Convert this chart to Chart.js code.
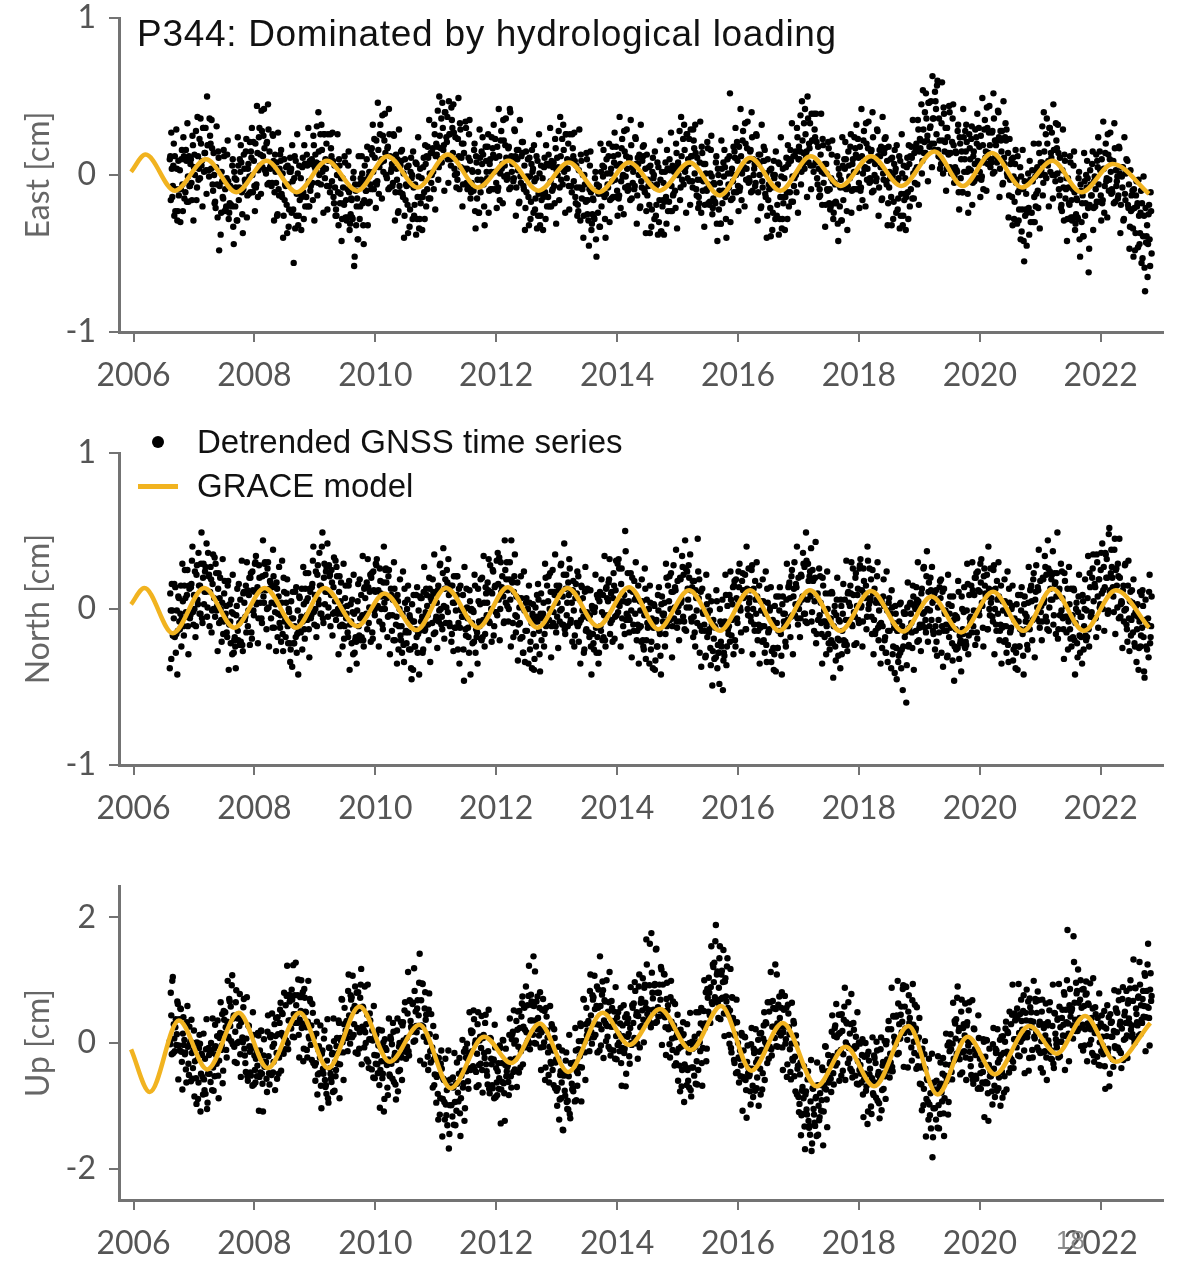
<!DOCTYPE html>
<html>
<head>
<meta charset="utf-8">
<script src="https://cdn.jsdelivr.net/npm/chart.js@4.4.1/dist/chart.umd.min.js"></script>
<style>
  body { margin: 0; background: #fff; }
  #page { position: relative; width: 1178px; height: 1261px; overflow: hidden; background: #fff; }
  canvas { position: absolute; left: 0; }
  .txt { position: absolute; white-space: nowrap; font-family: "Liberation Sans", Arial, sans-serif; color: #111; }
</style>
</head>
<body>
<div id="page">
  <canvas id="east" width="1178" height="400" style="top:0"></canvas>
  <canvas id="north" width="1178" height="440" style="top:400px"></canvas>
  <canvas id="up" width="1178" height="421" style="top:840px"></canvas>

  <div class="txt" style="left:137px; top:12px; font-size:37px; line-height:44px; letter-spacing:0.7px;">P344: Dominated by hydrological loading</div>

  <!-- legend -->
  <div style="position:absolute; left:152px; top:436px; width:12px; height:12px; border-radius:50%; background:#000;"></div>
  <div class="txt" style="left:197px; top:422px; font-size:33px; line-height:40px;">Detrended GNSS time series</div>
  <div style="position:absolute; left:138px; top:484px; width:40px; height:5px; background:#F1B320;"></div>
  <div class="txt" style="left:197px; top:466px; font-size:33px; line-height:40px;">GRACE model</div>

  <div class="txt" style="left:1056px; top:1225px; font-size:26px; line-height:30px; color:#888;">18</div>
</div>

<script>
// x axis
const yearTicks = [2006, 2008, 2010, 2012, 2014, 2016, 2018, 2020, 2022];
const xMin = 2005.76, xMax = 2023.03;

// GNSS samples: one every 1/60 yr from 2006.6 (set B sits half a step later), hundredths of cm
const gnssStart = 2006.6;
const gnssStep = 1 / 60;

const eastGnss = [
  10,-16,4,-7,20, 12,-9,4,-23,-13, 3,-9,16,-23,12, 10,16,-17,-1,12, -7,10,-16,19,5,
  0,28,-8,12,4, -2,20,9,30,2, 14,3,50,19,-1, 25,4,17,-10,0, -17,5,-6,15,-48, 2,-24,-4,-15,12, -9,-20,13,-4,-24, -7,-19,6,-33,2, -20,-3,-29,6,-8, 2,8,-25,-9,4, -5,23,-13,7,-1, -11,11,0,21,-7,
  20,-6,14,3,30, 13,41,5,25,17, 3,20,-6,29,15, 4,-7,26,9,-11, 2,8,-25,-9,4, 9,-12,1,-26,-16, -7,-19,6,-33,2, 2,-24,-4,-56,12, 9,-12,1,-26,-16, -2,-14,11,-28,7, 7,13,-20,-4,9, -7,10,-16,19,5,
  3,31,-5,15,7, -6,16,5,26,-2, 4,-7,26,9,-11, 17,-4,9,-18,-8, -22,0,-11,10,-18, -2,-28,-8,-19,8, -16,-27,6,-11,-31, -15,-27,-2,-58,-6, -32,-15,-41,-6,-20, -5,1,-32,-16,-3, -10,18,-18,2,-6, -9,13,2,23,-5,
  22,-4,16,5,32, 10,38,2,22,14, 0,17,-9,26,12, 4,-7,26,9,-11, 4,10,-23,-7,6, 9,-12,1,-26,-16, -7,-19,6,-33,2, -2,-28,-8,-19,8, 7,-14,-1,-28,-18, -2,-14,11,-28,7, 12,18,-15,1,14, 0,17,-9,26,12,
  13,41,5,25,17, 8,30,19,40,12, 21,10,47,26,6, 35,14,27,0,10, 1,23,12,33,5, 20,-6,14,3,30, 4,-7,26,9,-11, 3,-9,16,-23,12, -15,2,-24,11,-3, 7,13,-20,-4,9, -2,26,-10,10,2, -9,13,2,23,-5,
  18,-8,12,1,28, 7,35,-1,19,11, 0,17,-9,40,12, 7,-4,29,12,-8, 10,16,-17,-1,12, 14,-7,6,-21,-11, -2,-14,11,-28,7, 2,-24,-4,-15,12, 9,-12,1,-26,-16, -2,-14,11,-28,7, 7,13,-20,-4,9, -9,8,-18,17,3,
  0,28,-8,12,4, -6,16,5,26,-2, 4,-7,26,9,-11, 17,-4,9,-18,-8, -19,3,-8,13,-15, 0,-26,-6,-17,10, -16,-45,6,-11,-31, -15,-27,-2,-41,-6, -24,-7,-33,2,-12, -1,5,-28,-12,1, -8,20,-16,4,-4, -14,8,-3,18,-10,
  13,-13,7,-4,23, 0,28,-8,12,4, -7,10,-16,19,5, 2,-9,24,7,-13, 7,13,-20,-4,9, 12,-9,4,-23,-13, -7,-19,6,-33,2, -2,-28,-8,-19,8, 5,-16,-3,-36,-20, -5,-17,8,-31,4, 4,10,-23,-7,6, -12,5,-21,14,0,
  0,28,-8,12,4, -6,16,5,26,-2, 7,-4,29,12,-8, 22,1,14,-13,-3, -14,8,-3,18,-10, 7,-19,1,-10,17, -6,-17,16,-1,-21, -5,-17,8,-31,4, -22,-5,-31,4,-10, -1,5,-28,-12,1, -8,52,-16,4,-4, -11,11,0,21,-7,
  18,-8,12,1,28, 5,33,-3,17,9, -2,15,-11,24,10, 4,-7,26,9,-11, 7,13,-20,-4,9, 9,-12,1,-26,-16, -9,-21,4,-35,0, -2,-28,-8,-19,8, 7,-14,-1,-28,-18, -2,-14,11,-28,7, 10,16,-17,-1,12, -2,15,-11,24,10,
  10,38,2,22,14, 4,26,15,50,8, 17,6,39,22,2, 29,8,21,-6,4, -9,13,2,23,-5, 7,-19,1,-10,17, -9,-20,13,-4,-24, -5,-17,8,-31,4, -20,-3,-29,6,-8, 4,10,-23,-7,6, -2,26,-10,10,2, -9,13,2,23,-5,
  18,-8,12,1,28, 5,33,-3,17,9, -2,15,-11,24,10, 7,-4,29,12,-8, 12,18,-15,1,14, 17,-4,9,-18,-8, -2,-14,11,-28,7, 2,-24,-4,-15,12, 9,-12,1,-26,-16, -2,-14,11,-28,7, 12,18,-15,1,14, 3,20,-6,29,15,
  17,45,9,29,21, 14,36,25,46,18, 31,20,63,36,16, 47,26,60,12,22, 11,33,22,43,15, 30,4,24,13,40, 14,3,36,19,-1, 15,3,28,-11,24, -2,15,-11,24,10, 15,21,-12,4,17, 3,31,-5,15,7, -2,20,9,30,2,
  25,-1,19,8,35, 15,43,7,27,19, 10,27,1,36,22, 19,8,41,24,4, 22,28,-5,11,24, 22,1,14,-13,-3, -2,-14,11,-28,7, -5,-31,-11,-22,5, -1,-22,-9,-55,-26, -12,-24,1,-38,-3, -3,3,-30,-14,-1, -12,5,-21,14,0,
  3,31,-5,15,7, -2,20,9,30,2, 11,0,45,16,-4, 22,1,14,-13,-3, -19,3,-8,13,-15, -2,-28,-8,-19,8, -16,-27,6,-11,-31, -15,-27,-2,-41,-6, -30,-13,-39,-4,-18, -8,-2,-62,-19,-6, -13,15,-21,-1,-9, -17,5,-6,15,-13,
  10,-16,4,-7,20, -2,26,-10,10,2, -9,8,-18,17,3, -4,-15,18,1,-19, -1,5,-28,-12,1, 2,-19,-6,-33,-23, -22,-34,-9,-48,-13, -20,-46,-26,-37,-10, -18,-39,-26,-74,-43, -32,-44,-19,-58,-23
];
const eastGnssB = [
  12,27,-14,6,-26, -23,29,-29,9,-9, -30,10,-6,24,-15, -11,9,33,-17,-7, 7,-5,25,-29,13,
  5,-16,37,-3,23, 36,6,-20,30,14, 30,-12,19,3,36, 20,35,-6,14,-18, -21,31,-27,11,-7, -38,2,-14,16,-23, -22,-2,22,-28,-18, -8,-20,10,-44,-2, -8,-29,24,-16,10, 19,-11,-37,13,-3, 15,-27,4,-12,21, 15,30,-11,9,-23,
  -8,44,-14,24,6, -12,28,12,42,3, 1,21,45,-5,5, 7,-5,25,-29,13, -5,-26,27,-13,13, 16,-14,-40,10,-6, 5,-37,-6,-22,11, 4,19,-22,-2,-34, -26,26,-32,6,-12, -35,5,-11,19,-20, -14,6,30,-20,-10, 7,-5,25,-29,13,
  8,-13,40,0,26, 32,2,-24,26,10, 20,-22,9,-7,26, 12,27,-14,6,-26, -26,26,-32,6,-12, -42,-2,-18,12,-27, -29,-9,15,-35,-25, -16,-28,2,-52,-10, -20,-41,12,-28,-2, 12,-18,-44,6,-10, 10,-32,-1,-17,16, 17,32,-9,11,-21,
  -6,46,-12,26,8, -15,25,9,39,0, -2,18,42,-8,2, 7,-5,25,-29,13, -3,-24,29,-11,15, 16,-14,-40,10,-6, 5,-37,-6,-22,11, 0,15,-26,-6,-38, -28,24,-34,4,-14, -35,5,-11,19,-20, -9,11,35,-15,-5, 14,2,32,-22,20,
  18,-3,50,10,36, 46,16,-10,40,24, 37,-5,26,10,43, 30,45,4,24,-8, -3,49,-9,29,11, -20,20,4,34,-5, -9,11,35,-15,-5, 2,-10,20,-34,8, -3,-24,29,-11,15, 24,-6,-32,18,2, 18,-24,7,-9,24, 17,32,-9,11,-21,
  -10,42,-16,22,4, -18,22,6,36,-3, -2,18,42,-8,2, 10,-2,28,-26,16, 3,-18,35,-5,21, 21,-9,-35,15,-1, 10,-32,-1,-17,16, 4,19,-22,-2,-34, -26,26,-32,6,-12, -35,5,-11,19,-20, -14,6,30,-20,-10, 5,-7,23,-31,11,
  5,-16,37,-3,23, 32,2,-24,26,10, 20,-22,9,-7,26, 12,27,-14,6,-26, -23,29,-29,9,-9, -40,0,-16,14,-25, -29,-9,15,-35,-25, -16,-28,2,-52,-10, -12,-33,20,-20,6, 16,-14,-40,10,-6, 12,-30,1,-15,18, 12,27,-14,6,-26,
  -15,37,-21,17,-1, -25,15,-1,29,-10, -9,11,35,-15,-5, 5,-7,23,-31,11, 0,-21,32,-8,18, 19,-11,-37,13,-3, 5,-37,-6,-22,11, 0,15,-26,-6,-38, -30,22,-36,2,-16, -38,2,-14,16,-23, -17,3,27,-23,-13, 2,-10,20,-34,8,
  5,-16,37,-3,23, 32,2,-24,26,10, 23,-19,12,-4,29, 17,32,-9,11,-21, -18,34,-24,14,-4, -33,7,-9,21,-18, -19,1,25,-25,-15, -6,-18,12,-42,0, -10,-31,22,-18,8, 16,-14,-40,10,-6, 12,-30,1,-15,18, 15,30,-11,9,-23,
  -10,42,-16,22,4, -20,20,4,34,-5, -4,16,40,-10,0, 7,-5,25,-29,13, 0,-21,32,-8,18, 16,-14,-40,10,-6, 3,-39,-8,-24,9, 0,15,-26,-6,-38, -28,24,-34,4,-14, -35,5,-11,19,-20, -11,9,33,-17,-7, 12,0,30,-24,18,
  15,-6,47,7,33, 42,12,-14,36,20, 33,-9,22,6,39, 24,39,-2,18,-14, -13,39,-19,19,1, -33,7,-9,21,-18, -22,-2,22,-28,-18, -6,-18,12,-42,0, -8,-29,24,-16,10, 21,-9,-35,15,-1, 18,-24,7,-9,24, 17,32,-9,11,-21,
  -10,42,-16,22,4, -20,20,4,34,-5, -4,16,40,-10,0, 10,-2,28,-26,16, 5,-16,37,-3,23, 24,-6,-32,18,2, 10,-32,-1,-17,16, 4,19,-22,-2,-34, -26,26,-32,6,-12, -35,5,-11,19,-20, -9,11,35,-15,-5, 17,5,35,-19,23,
  22,1,54,14,40, 52,22,-4,46,30, 47,5,36,20,53, 42,57,16,36,4, 7,59,1,39,21, -10,30,14,44,5, 1,21,45,-5,5, 14,2,32,-22,20, 10,-11,42,2,28, 32,2,-24,26,10, 23,-19,12,-4,29, 24,39,-2,18,-14,
  -3,49,-9,29,11, -10,30,14,44,5, 8,28,52,2,12, 22,10,40,-14,28, 15,-6,47,7,33, 29,-1,-27,23,7, 10,-32,-1,-17,16, -3,12,-29,-9,-41, -36,16,-42,-4,-22, -45,-5,-21,9,-30, -24,-4,20,-30,-20, 2,-10,20,-34,8,
  8,-13,40,0,26, 36,6,-20,30,14, 27,-15,16,0,33, 17,32,-9,11,-21, -23,29,-29,9,-9, -42,-2,-18,12,-27, -29,-9,15,-35,-25, -16,-28,2,-52,-10, -18,-39,14,-26,0, 9,-21,-47,3,-13, 7,-35,-4,-20,13, 9,24,-17,3,-29,
  -18,34,-24,14,-4, -27,13,-3,27,-12, -11,9,33,-17,-7, -1,-13,17,-37,5, -8,-29,24,-16,10, 9,-21,-47,3,-13, -10,-52,-21,-37,-4, -18,-3,-44,-24,-56, -53,-1,-59,-21,-39, -65,-25,-41,-11,-50
];

const northGnss = [
  -38,-1,16,-17,-6, -18,-28,-1,-14,7, -13,15,-6,5,-17, 25,-2,9,-11,15, -6,14,31,-2,9,
  24,-11,28,3,15, 15,29,-6,20,3, 24,11,-5,36,22, 11,19,-1,35,7, -5,23,2,13,-9, 20,-7,4,-16,10, -6,2,-18,18,-10, -8,6,-29,-3,-20, -24,-4,13,-20,-9, 6,-7,-23,10,4, -5,-15,12,-1,20, 20,-15,24,-1,11,
  30,3,14,-6,20, 4,-6,21,8,29, 22,-13,26,1,13, 17,4,-12,21,15, 3,17,-18,8,-9, -4,4,-16,20,-8, -18,10,-11,0,-22, -26,-6,11,-22,-11, -18,-28,-1,-14,7, -15,13,-8,3,-19, 23,-4,7,-13,13, -6,14,31,-2,9,
  24,-11,28,3,15, 15,40,-6,20,3, 24,11,-5,28,22, 9,17,-3,33,5, -7,21,0,11,-11, 17,-10,1,-19,7, -6,2,-18,18,-10, -8,6,-29,-3,-20, -21,-1,16,-17,-6, 9,-4,-20,13,7, -3,-13,14,1,22, 20,-15,24,-1,11,
  28,1,12,-8,18, 0,-10,17,4,25, 17,-18,21,-4,8, 9,-4,-20,13,7, -5,9,-26,0,-17, -11,-3,-23,13,-15, -22,6,-15,-4,-26, -45,-8,9,-24,-13, -18,-28,-1,-14,7, 7,-28,11,-14,-2, 9,-4,-20,13,7, 5,19,-16,10,-7,
  4,12,-8,28,0, -5,23,2,13,-9, 25,-2,9,-11,15, -16,4,21,-12,-1, 9,-26,13,-12,0, -5,9,-46,0,-17, 1,-12,-28,5,-1, -9,-1,-21,15,-13, -15,13,-8,3,-19, 20,-7,4,-16,10, 4,12,-8,28,0, 10,24,-11,15,-2,
  -4,16,33,0,11, 21,8,-8,25,19, 2,-8,19,6,44, 17,-18,21,-4,8, 17,-10,1,-19,7, -18,-28,-1,-14,7, 0,-35,4,-21,-9, -3,-16,-32,1,-5, -8,6,-29,-3,-20, -4,4,-16,20,-8, -7,21,0,11,-11, 25,-2,9,-11,15,
  4,12,-8,28,0, 8,22,-13,13,-4, -11,9,26,-7,4, 12,-1,-17,16,10, -11,-21,6,-7,14, 7,-28,11,-14,-2, 12,-15,-4,-24,2, -16,-26,1,-12,9, 7,-28,11,-14,-2, 9,-4,-20,13,7, 5,19,-16,10,-7, 7,15,-5,31,3,
  -2,26,5,16,-6, -11,9,50,-7,4, -5,-15,12,-1,20, -10,18,-3,8,-14, 15,-12,-1,-21,5, -24,-4,13,-20,-9, 0,-35,4,-21,-9, -12,2,-33,-7,-24, -1,-14,-30,3,-3, -4,4,-16,20,-8, -7,21,0,11,-11, 28,1,12,-8,18,
  2,-8,19,6,27, 22,-13,26,1,13, 28,1,12,-8,18, -5,-15,12,-1,45, 7,-28,11,-14,-2, -1,-14,-30,3,-3, -15,-1,-36,-10,-27, -19,-11,-31,5,-23, -28,0,-21,-10,-52, -28,-8,9,-24,-13, -11,-21,6,-7,14, 15,-20,19,-6,6,
  14,1,-15,18,12, 8,22,-13,13,-4, 4,12,-8,28,0, -10,18,-3,8,-14, 15,-12,-1,-21,5, -11,-3,-23,13,-15, -13,1,-34,-8,-25, -29,-9,8,-25,-14, -1,-14,-30,3,-3, -11,-21,6,-7,14, 17,-18,21,-4,8, 30,3,14,-6,20,
  4,-6,21,8,29, 27,-8,31,6,18, 21,8,-8,25,19, 5,43,-16,10,-7, -4,4,-16,20,-8, -18,10,-11,0,-22, -26,-6,11,-22,-11, 2,-33,6,-19,-7, -8,6,-29,-3,-20, 6,-7,-23,10,4, 2,10,-10,26,-2, -5,23,2,13,-9,
  28,1,12,-8,18, 7,15,-5,31,3, 5,19,-16,10,-7, -16,4,21,-12,-1, 4,-9,-25,8,2, -18,-28,-1,-14,7, -3,-38,1,-24,-12, 2,-25,-14,-34,-8, -28,-38,-11,-24,-3, -3,-60,1,-24,-12, 4,-9,-25,8,2, 0,14,-21,5,-12,
  2,10,-10,26,-2, -7,21,0,11,-11, 20,-7,4,-16,10, -11,-21,6,-7,14, 7,-28,11,-14,-2, -1,-14,-30,3,-3, -12,2,-33,-7,-24, -13,-5,-25,11,-17, -20,8,-13,-2,-24, -21,-1,16,-17,-6, -5,-15,12,-1,20, 20,-15,24,-1,11,
  17,4,-12,21,15, 8,22,-13,13,-4, 4,12,-8,28,0, -10,18,-3,8,-14, 15,-12,-1,-21,5, -11,-3,-23,13,-15, -12,2,-33,-7,-24, -28,-8,9,-24,-13, -1,-14,-30,3,-3, -13,-23,4,-9,12, 15,-20,19,-6,6, 28,1,12,-8,18,
  2,-8,19,6,27, 22,-13,26,1,13, 19,6,-10,23,17, 8,49,-13,13,-4, -1,7,-13,23,-5, -15,13,-8,3,-19, -24,-4,13,-20,-9, 4,-31,8,-17,-5, -5,9,-26,0,-17, -1,7,-13,23,-5, -2,26,5,16,-6, 35,8,19,1,25,
  10,0,27,14,35, 32,-3,48,11,23, 27,14,-2,45,25, 15,29,-6,20,3, 4,12,-8,28,0, -13,15,-6,5,-17, 12,-15,-4,-24,2, -13,-5,-25,11,-17, -12,2,-40,-7,-24, -26,-6,11,-22,-11
];
const northGnssB = [
  10,-32,-1,-17,16, 14,-16,-42,8,-8, -3,-24,29,-11,15, 7,-5,25,-29,13, -4,16,40,-10,0,
  -18,22,6,36,-3, -3,49,-9,29,11, 27,42,1,21,-11, 27,-15,16,0,33, 29,-1,-27,23,7, 0,-21,32,-8,18, -3,-15,15,-39,3, -22,-2,22,-28,-18, -38,2,-14,16,-23, -21,31,-27,11,-7, 15,30,-11,9,-23, 23,-19,12,-4,29,
  34,4,-22,28,12, 12,-9,44,4,30, 12,0,30,-24,18, -6,14,38,-12,-2, -27,13,-3,27,-12, -21,31,-27,11,-7, 4,19,-22,-2,-34, 5,-37,-6,-22,11, 14,-16,-42,8,-8, -5,-26,27,-13,13, 5,-7,23,-31,11, -4,16,40,-10,0,
  -18,22,6,36,-3, -3,49,-9,29,11, 27,42,1,21,-11, 25,-17,14,-2,31, 27,-3,-29,21,5, -3,-24,29,-11,15, -3,-15,15,-39,3, -22,-2,22,-28,-18, -35,5,-11,19,-20, -18,34,-24,14,-4, 17,32,-9,11,-21, 23,-19,12,-4,29,
  32,2,-24,26,10, 8,-13,40,0,26, 7,-5,25,-29,13, -14,6,30,-20,-10, -35,5,-11,19,-20, -28,24,-34,4,-14, 0,15,-26,-6,-38, 3,-39,-8,-24,9, 14,-16,-42,8,-8, -5,-26,27,-13,13, 2,-10,20,-34,8, -9,11,35,-15,-5,
  -25,15,-1,29,-10, -13,39,-19,19,1, 17,32,-9,11,-21, 15,-27,4,-12,21, 21,-9,-35,15,-1, -5,-26,27,-13,13, -6,-18,12,-42,0, -22,-2,22,-28,-18, -35,5,-11,19,-20, -18,34,-24,14,-4, 17,32,-9,11,-21, 25,-17,14,-2,31,
  36,6,-20,30,14, 12,-9,44,4,30, 12,0,30,-24,18, -9,11,35,-15,-5, -33,7,-9,21,-18, -28,24,-34,4,-14, 0,15,-26,-6,-38, 3,-39,-8,-24,9, 16,-14,-40,10,-6, -3,-24,29,-11,15, 5,-7,23,-31,11, -9,11,35,-15,-5,
  -25,15,-1,29,-10, -10,42,-16,22,4, 17,32,-9,11,-21, 18,-24,7,-9,24, 21,-9,-35,15,-1, -5,-26,27,-13,13, -6,-18,12,-42,0, -22,-2,22,-28,-18, -35,5,-11,19,-20, -18,34,-24,14,-4, 17,32,-9,11,-21, 23,-19,12,-4,29,
  32,2,-24,26,10, 5,-16,37,-3,23, 5,-7,23,-31,11, -14,6,30,-20,-10, -35,5,-11,19,-20, -26,26,-32,6,-12, 0,15,-26,-6,-38, 3,-39,-8,-24,9, 14,-16,-42,8,-8, -3,-24,29,-11,15, 5,-7,23,-31,11, -6,14,38,-12,-2,
  -20,20,4,34,-5, -8,44,-14,24,6, 20,35,-6,14,-18, 18,-24,7,-9,24, 19,-11,-37,13,-3, -10,-31,22,-18,8, -13,-25,5,-49,-7, -32,-12,12,-38,-28, -48,-8,-24,6,-33, -30,22,-36,2,-16, 9,24,-17,3,-29, 18,-24,7,-9,24,
  29,-1,-27,23,7, 8,-13,40,0,26, 7,-5,25,-29,13, -14,6,30,-20,-10, -35,5,-11,19,-20, -28,24,-34,4,-14, -1,14,-27,-7,-39, 2,-40,-9,-25,8, 14,-16,-42,8,-8, -3,-24,29,-11,15, 7,-5,25,-29,13, -4,16,40,-10,0,
  -18,22,6,36,-3, -3,49,-9,29,11, 24,39,-2,18,-14, 20,-22,9,-7,26, 21,-9,-35,15,-1, -8,-29,24,-16,10, -8,-20,10,-44,-2, -24,-4,20,-30,-20, -38,2,-14,16,-23, -21,31,-27,11,-7, 15,30,-11,9,-23, 20,-22,9,-7,26,
  32,2,-24,26,10, 8,-13,40,0,26, 7,-5,25,-29,13, -14,6,30,-20,-10, -35,5,-11,19,-20, -28,24,-34,4,-14, -3,12,-29,-9,-41, -3,-45,-14,-30,3, 4,-26,-52,-2,-18, -15,-36,17,-23,3, -3,-15,15,-39,3, -14,6,30,-20,-10,
  -27,13,-3,27,-12, -15,37,-21,17,-1, 12,27,-14,6,-26, 12,-30,1,-15,18, 19,-11,-37,13,-3, -10,-31,22,-18,8, -10,-22,8,-46,-4, -26,-6,18,-32,-22, -40,0,-16,14,-25, -23,29,-29,9,-9, 15,30,-11,9,-23, 23,-19,12,-4,29,
  32,2,-24,26,10, 8,-13,40,0,26, 7,-5,25,-29,13, -14,6,30,-20,-10, -35,5,-11,19,-20, -28,24,-34,4,-14, 0,15,-26,-6,-38, 3,-39,-8,-24,9, 14,-16,-42,8,-8, -5,-26,27,-13,13, 5,-7,23,-31,11, -6,14,38,-12,-2,
  -20,20,4,34,-5, -8,44,-14,24,6, 22,37,-4,16,-16, 23,-19,12,-4,29, 24,-6,-32,18,2, -5,-26,27,-13,13, -6,-18,12,-42,0, -22,-2,22,-28,-18, -35,5,-11,19,-20, -18,34,-24,14,-4, 20,35,-6,14,-18, 30,-12,19,3,36,
  42,12,-14,36,20, 20,-1,52,12,38, 20,8,38,-16,26, 1,21,45,-5,5, -25,15,-1,29,-10, -21,31,-27,11,-7, 4,19,-22,-2,-34, 3,-39,-8,-24,9, 12,-18,-44,6,-10, -10,-31,22,-18,8
];

const upGnss = [
  3,80,-18,105,30, -13,38,14,62,-4, -12,54,-30,15,-3, -18,-42,33,-6,-51, -1,-61,-16,-40,20,
  -29,-56,1,-89,-8, -1,-49,-19,-82,-58, -25,-10,-105,-49,-19, -15,0,-75,-39,-9, 29,-19,11,-52,-28, 16,-11,46,-44,37, 49,-11,34,10,70, 27,3,108,39,-6, 18,84,0,45,27, -18,33,9,57,-9, -32,7,-53,28,-5, -47,-8,-68,13,-20,
  -63,-12,-36,12,-54, -47,19,-65,-20,-38, -33,-57,18,-21,-66, 9,-51,-6,-30,30, 11,-16,41,-49,32, 64,16,46,-17,7, 60,75,0,36,66, 70,85,10,46,76, 128,46,76,13,37, 51,24,81,-9,72, 49,-11,34,10,70, -3,-27,48,9,-36,
  -32,34,-50,-5,-23, -68,-17,-41,7,-59, -67,-28,-88,-7,-40, -57,-18,-78,3,-30, -43,8,-16,32,-34, 3,69,-15,30,12, 32,8,83,44,-1, 69,9,54,30,90, 51,24,81,-9,72, 118,26,56,-7,17, 30,45,-30,6,36, 5,20,-55,-19,11,
  14,-34,-4,-67,-43, -29,-56,1,-89,-8, -11,-71,-26,-50,10, -33,-57,18,-21,-66, -27,39,-45,0,-18, -23,28,4,52,-14, 8,47,-13,68,35, 23,62,2,83,50, 17,68,44,142,26, 28,94,10,55,37, 2,-22,53,14,-31, -11,-71,-26,-50,10,
  -54,-81,-24,-114,-33, -41,-89,-59,-122,-98, -75,-60,-168,-99,-69, -70,-55,-130,-94,-64, -31,-79,-49,-112,-88, -44,-71,-14,-104,-23, -1,-61,-16,-40,20, -13,-37,38,-1,-46, -17,49,-35,10,-8, -43,8,-16,32,-34, -52,-13,-73,8,-25, -67,-28,-88,-7,-40,
  -83,-32,-56,-8,-74, -62,4,-80,-35,-53, -38,-62,13,-26,-71, 14,-46,-1,-25,35, 21,-6,51,-39,42, 74,26,56,-7,17, 60,75,0,36,66, 60,138,0,36,66, 74,26,56,-7,17, 21,-6,51,-39,42, 9,-51,-6,-30,30, -43,-67,8,-31,-76,
  -72,-6,-90,-45,-63, -138,-52,-76,-28,-94, -92,-53,-113,-32,-65, -72,-33,-93,-12,-45, -48,3,-21,27,-39, 3,69,-15,30,12, 32,8,83,44,-1, 69,9,54,30,90, 56,29,138,-4,77, 84,36,66,3,27, 50,65,-10,26,56, 35,50,-25,11,41,
  49,1,31,-32,-8, 11,-16,41,-49,32, 39,-21,24,0,60, 32,8,83,44,-1, 43,109,25,70,52, 37,88,64,165,46, 53,92,32,175,80, 53,92,32,150,80, 42,93,69,117,51, 43,109,25,70,52, 22,-2,73,34,-11, 24,-36,9,-15,45,
  -9,-36,21,-69,12, 14,-34,-4,-67,-43, -15,0,-75,-39,-9, -5,10,-65,-29,1, 49,1,31,-32,-8, 51,24,81,-9,72, 104,44,89,65,125, 97,73,188,109,64, 88,154,70,115,97, 47,98,74,122,56, 13,52,-8,73,40, -27,12,-48,33,0,
  -63,-12,-36,12,-54, -57,9,-75,-30,-48, -53,-77,-2,-41,-86, -16,-76,-31,-55,5, -14,-41,16,-74,7, 49,1,31,-32,-8, 50,65,-10,26,56, 55,125,-5,31,61, 74,26,56,-7,17, 26,-1,56,-34,47, 14,-46,-1,-25,35, -53,-77,-2,-41,-86,
  -97,-31,-115,-70,-88, -133,-82,-106,-58,-124, -132,-93,-172,-72,-105, -127,-88,-148,-67,-100, -118,-67,-91,-43,-109, -72,-6,-90,-45,-63, -33,-57,18,-21,-66, 24,-36,9,-15,45, 16,-11,46,-44,37, 88,1,31,-32,-8, 15,30,-45,-9,21, -5,10,-65,-29,1,
  -1,-49,-19,-82,-58, -49,-76,-19,-109,-28, -41,-101,-56,-80,-20, -63,-87,-12,-51,-96, -57,9,-75,-30,-48, -53,-2,-26,22,-44, -17,22,-38,43,10, 3,42,-18,63,30, 7,58,34,92,16, 23,89,5,50,32, 17,-7,68,29,-16, 19,-41,4,-20,40,
  -39,-66,-9,-99,-18, -41,-89,-59,-122,-98, -80,-65,-182,-104,-74, -75,-60,-135,-99,-69, -31,-79,-49,-112,-88, -34,-61,-4,-94,-13, 14,-46,-1,-25,35, 7,-17,90,19,-26, 3,69,-15,30,12, -23,28,4,52,-14, -37,2,-58,23,-10, -52,-13,-73,8,-25,
  -73,-22,-46,2,-64, -62,4,-80,-35,-53, -53,-77,-2,-41,-86, -16,-76,-31,-55,5, -19,-46,11,-79,2, 34,-14,16,-47,-23, 30,45,-30,6,36, 40,55,-20,16,46, 69,21,51,-12,12, 36,9,66,-24,57, 49,-11,34,10,70, 17,-7,68,29,-16,
  3,69,-15,30,12, -23,28,4,52,-14, -12,27,-33,48,15, -2,37,-23,58,25, 2,53,29,77,11, 33,180,15,60,42, 52,28,170,64,19, 79,19,64,40,100, 56,29,86,-4,77, 79,31,61,-2,22, 40,55,-20,16,46, 25,40,-35,1,31,
  44,-4,26,-37,-13, 11,-16,41,-49,32, 34,-26,19,-5,55, 17,-7,68,29,-16, 23,89,5,50,32, 12,63,39,87,21, 28,67,7,88,55, 33,72,12,93,60, 32,83,59,107,41, 58,158,40,85,67
];
const upGnssB = [
  -2,44,99,-16,7, 25,-3,66,-58,38, 55,-14,-74,41,5, -15,-63,59,-33,26, 3,37,-57,-11,-85,
  0,-97,-26,-63,13, -109,-17,-54,15,-75, -81,38,-95,-8,-49, -62,-16,39,-76,-53, -5,-33,36,-88,8, 65,-4,-64,51,15, 25,-23,99,7,66, 58,92,-2,44,-30, 65,-32,39,2,78, -54,38,1,70,-20, -46,73,-60,27,-14, -52,-6,49,-66,-43,
  -25,-53,16,-108,-12, 20,-49,-109,6,-30, -30,-78,44,-48,11, 13,47,-47,-1,-75, 40,-57,14,-23,53, -44,48,11,80,-10, 4,123,-10,77,36, 23,69,124,9,32, 60,32,101,-23,73, 100,31,-29,86,50, 25,-23,99,7,66, 28,62,-32,14,-60,
  15,-82,-11,-48,28, -104,-12,-49,20,-70, -81,38,-95,-8,-49, -62,-16,39,-76,-53, -5,-33,36,-88,8, 70,1,-59,56,20, 35,-13,109,17,76, 73,107,13,59,-15, 80,-17,54,17,93, -34,58,21,90,0, -26,93,-40,47,6, -42,4,59,-56,-33,
  -20,-48,21,-103,-7, 20,-49,-109,6,-30, -35,-83,39,-53,6, -2,32,-62,-16,-90, 20,-77,-6,-43,33, -59,33,-4,65,-25, -6,113,-20,67,26, 18,64,119,4,27, 55,27,96,-28,68, 95,26,-34,81,45, 5,-43,79,-13,46, -7,27,-67,-21,-95,
  -25,-122,-51,-88,-12, -149,-57,-94,-25,-115, -131,-12,-145,-58,-99, -117,-71,-16,-131,-108, -65,-93,-24,-148,-52, 5,-64,-124,-9,-45, -25,-73,49,-43,16, 18,52,-42,4,-70, 30,-67,4,-33,43, -79,13,-24,45,-45, -66,53,-80,7,-34, -72,-26,29,-86,-63,
  -45,-73,-4,-128,-32, 5,-64,-124,-9,-45, -35,-83,39,-53,6, 18,52,-42,4,-70, 50,-47,24,-13,63, -34,58,21,90,0, 4,123,-10,77,36, 13,59,114,-1,22, 40,12,81,-43,53, 70,1,-59,56,20, -15,-63,59,-33,26, -12,22,-72,-26,-100,
  -25,-122,-51,-88,-12, -139,-47,-84,-15,-105, -106,13,-120,-33,-74, -77,-31,24,-91,-68, -10,-38,31,-93,3, 70,1,-59,56,20, 35,-13,109,17,76, 73,107,13,59,-15, 85,-12,59,22,98, -24,68,31,100,10, -6,113,-20,67,26, -12,34,89,-26,-3,
  15,-13,56,-68,28, 60,-9,-69,46,10, 15,-33,89,-3,56, 63,97,3,49,-25, 90,-7,64,27,103, 1,93,56,125,35, 39,158,25,112,71, 48,94,149,34,57, 80,52,121,-3,93, 110,41,-19,96,60, 25,-23,99,7,66, 28,62,-32,14,-60,
  20,-77,-6,-43,33, -94,-2,-39,30,-60, -71,48,-85,2,-39, -52,-6,49,-66,-43, 15,-13,56,-68,28, 100,31,-29,86,50, 80,32,154,62,121, 128,162,68,114,40, 135,38,109,72,148, 11,103,66,135,45, -1,118,-15,72,31, -32,14,69,-46,-23,
  -25,-53,16,-108,-12, 10,-59,-119,-4,-40, -50,-98,24,-68,-9, -12,22,-72,-26,-100, 15,-82,-11,-48,28, -59,33,-4,65,-25, -6,113,-20,67,26, 8,54,109,-6,17, 40,12,81,-43,53, 75,6,-54,61,25, -10,-58,64,-28,31, -22,12,-82,-36,-110,
  -50,-147,-76,-113,-37, -169,-77,-114,-45,-135, -146,-27,-160,-73,-114, -132,-86,-31,-146,-123, -80,-108,-39,-163,-67, -5,-74,-134,-19,-55, -30,-78,44,-48,11, 28,62,-32,14,-60, 45,-52,19,-18,58, -59,33,-4,65,-25, -41,78,-55,32,-9, -52,-6,49,-66,-43,
  -35,-63,6,-118,-22, 0,-69,-129,-14,-50, -65,-113,9,-83,-24, -32,2,-92,-46,-120, -10,-107,-36,-73,3, -89,3,-34,35,-55, -31,88,-45,42,1, -2,44,99,-16,7, 45,17,86,-38,58, 90,21,-39,76,40, 20,-28,94,2,61, 23,57,-37,9,-65,
  -10,-107,-36,-73,3, -149,-57,-94,-25,-115, -136,-17,-150,-63,-104, -122,-76,-21,-136,-113, -65,-93,-24,-148,-52, 15,-54,-114,1,-35, -10,-58,64,-28,31, 38,72,-22,24,-50, 50,-47,24,-13,63, -59,33,-4,65,-25, -51,68,-65,22,-19, -57,-11,44,-71,-48,
  -35,-63,6,-118,-22, 5,-64,-124,-9,-45, -50,-98,24,-68,-9, -12,22,-72,-26,-100, 10,-87,-16,-53,23, -74,18,-19,50,-40, -26,93,-40,47,6, -7,39,94,-21,2, 35,7,76,-48,48, 85,16,-44,71,35, 25,-23,99,7,66, 48,82,-12,34,-40,
  50,-47,24,-13,63, -59,33,-4,65,-25, -26,93,-40,47,6, -7,39,94,-21,2, 40,12,81,-43,53, 100,31,-29,86,50, 55,7,129,37,96, 83,117,23,69,-5, 85,-12,59,22,98, -29,63,26,95,5, -16,103,-30,57,16, -22,24,79,-36,-13,
  10,-18,51,-73,23, 60,-9,-69,46,10, 10,-38,84,-8,51, 48,82,-12,34,-40, 70,-27,44,7,83, -24,68,31,100,10, 14,133,0,87,46, 28,74,129,14,37, 70,42,111,-13,83, 125,56,-4,111,75
];

// GRACE model: turning points (year, cm)
const eastGraceT = [2005.96, 2006.2, 2006.68, 2007.2, 2007.7, 2008.2, 2008.7, 2009.2, 2009.7, 2010.2, 2010.7, 2011.2, 2011.7, 2012.2, 2012.7, 2013.2, 2013.7, 2014.2, 2014.7, 2015.2, 2015.7, 2016.2, 2016.7, 2017.2, 2017.7, 2018.2, 2018.7, 2019.25, 2019.72, 2020.2, 2020.7, 2021.2, 2021.68, 2022.2, 2022.8];
const eastGraceV = [0.02, 0.13, -0.10, 0.10, -0.11, 0.09, -0.11, 0.09, -0.10, 0.12, -0.08, 0.13, -0.08, 0.09, -0.10, 0.08, -0.11, 0.08, -0.10, 0.08, -0.13, 0.11, -0.10, 0.12, -0.07, 0.12, -0.07, 0.15, -0.07, 0.14, -0.08, 0.09, -0.11, 0.07, -0.12];

const northGraceT = [2005.96, 2006.18, 2006.65, 2007.17, 2007.67, 2008.17, 2008.69, 2009.16, 2009.7, 2010.15, 2010.68, 2011.17, 2011.7, 2012.19, 2012.68, 2013.18, 2013.68, 2014.2, 2014.68, 2015.19, 2015.7, 2016.2, 2016.68, 2017.19, 2017.69, 2018.2, 2018.73, 2019.2, 2019.69, 2020.22, 2020.72, 2021.2, 2021.72, 2022.25, 2022.8];
const northGraceV = [0.03, 0.135, -0.155, 0.135, -0.12, 0.135, -0.12, 0.135, -0.11, 0.10, -0.135, 0.135, -0.12, 0.14, -0.12, 0.135, -0.11, 0.14, -0.13, 0.12, -0.14, 0.12, -0.14, 0.12, -0.14, 0.115, -0.145, 0.08, -0.15, 0.11, -0.14, 0.13, -0.14, 0.12, -0.12];

const upGraceT = [2005.96, 2006.27, 2006.75, 2007.22, 2007.74, 2008.22, 2008.75, 2009.22, 2009.74, 2010.24, 2010.73, 2011.25, 2011.8, 2012.25, 2012.72, 2013.19, 2013.76, 2014.2, 2014.71, 2015.22, 2015.72, 2016.22, 2016.74, 2017.3, 2017.78, 2018.25, 2018.82, 2019.3, 2019.8, 2020.25, 2020.82, 2021.27, 2021.74, 2022.25, 2022.82];
const upGraceV = [-0.1, -0.78, 0.36, -0.42, 0.48, -0.4, 0.48, -0.4, 0.58, -0.3, 0.29, -0.72, 0.1, -0.32, 0.31, -0.46, 0.48, -0.03, 0.54, -0.11, 0.59, -0.44, 0.32, -0.69, -0.06, -0.69, 0.27, -0.82, 0.1, -0.5, 0.27, -0.17, 0.43, -0.3, 0.32];

const axisGrey = '#737373';
const labelGrey = '#555555';
const axisFont = { family: 'Lato, "DejaVu Sans", sans-serif', size: 32 };

function gnssPoints(vals, shift) {
  return vals.map((v, i) => ({ x: gnssStart + (i + shift) * gnssStep, y: v / 100 }));
}
function gracePoints(t, v) {
  return t.map((x, i) => ({ x: x, y: v[i] }));
}
function noPad(s) {
  s.paddingTop = 0; s.paddingBottom = 0; s.paddingLeft = 0; s.paddingRight = 0;
}

function panel(id, p) {
  const dots = { backgroundColor: '#000', pointRadius: 3.2, pointBorderWidth: 0, order: 1 };
  new Chart(document.getElementById(id), {
    type: 'scatter',
    data: {
      datasets: [
        {
          type: 'line',
          data: gracePoints(p.graceT, p.graceV),
          borderColor: '#F1B320',
          borderWidth: 4.5,
          pointRadius: 0,
          cubicInterpolationMode: 'monotone',
          fill: false,
          order: 0
        },
        Object.assign({ data: gnssPoints(p.gnss, 0) }, dots),
        Object.assign({ data: gnssPoints(p.gnssB, 0.5) }, dots)
      ]
    },
    options: {
      responsive: false,
      animation: false,
      devicePixelRatio: 1,
      events: [],
      layout: { padding: { top: p.padTop, right: 15, left: 0, bottom: 0 } },
      plugins: { legend: { display: false }, tooltip: { enabled: false } },
      scales: {
        x: {
          type: 'linear', min: xMin, max: xMax,
          afterBuildTicks: s => { s.ticks = yearTicks.map(v => ({ value: v })); },
          afterFit: s => { s.height = p.axisH; noPad(s); },
          ticks: { font: axisFont, color: labelGrey, padding: 14, maxRotation: 0, autoSkip: false, callback: v => String(v) },
          grid: { drawOnChartArea: false, tickLength: 10, color: axisGrey, lineWidth: 2 },
          border: { color: axisGrey, width: 3 }
        },
        y: {
          min: p.yMin, max: p.yMax,
          afterBuildTicks: s => { s.ticks = p.yTicks.map(v => ({ value: v })); },
          afterFit: s => { s.width = 119; noPad(s); },
          ticks: { font: axisFont, color: labelGrey, padding: 13, callback: v => String(v) },
          grid: { drawOnChartArea: false, tickLength: 10, color: axisGrey, lineWidth: 2 },
          border: { color: axisGrey, width: 3 },
          title: { display: true, text: p.title, font: axisFont, color: '#666666', padding: { top: 19, bottom: 0 } }
        }
      }
    }
  });
}

panel('east', { gnss: eastGnss, gnssB: eastGnssB, graceT: eastGraceT, graceV: eastGraceV, yMin: -1, yMax: 1, yTicks: [-1, 0, 1], title: 'East [cm]', padTop: 18, axisH: 68 });
panel('north', { gnss: northGnss, gnssB: northGnssB, graceT: northGraceT, graceV: northGraceV, yMin: -1, yMax: 1, yTicks: [-1, 0, 1], title: 'North [cm]', padTop: 53, axisH: 75 });
panel('up', { gnss: upGnss, gnssB: upGnssB, graceT: upGraceT, graceV: upGraceV, yMin: -2.5, yMax: 2.5, yTicks: [-2, 0, 2], title: 'Up [cm]', padTop: 46, axisH: 61 });
</script>
</body>
</html>
